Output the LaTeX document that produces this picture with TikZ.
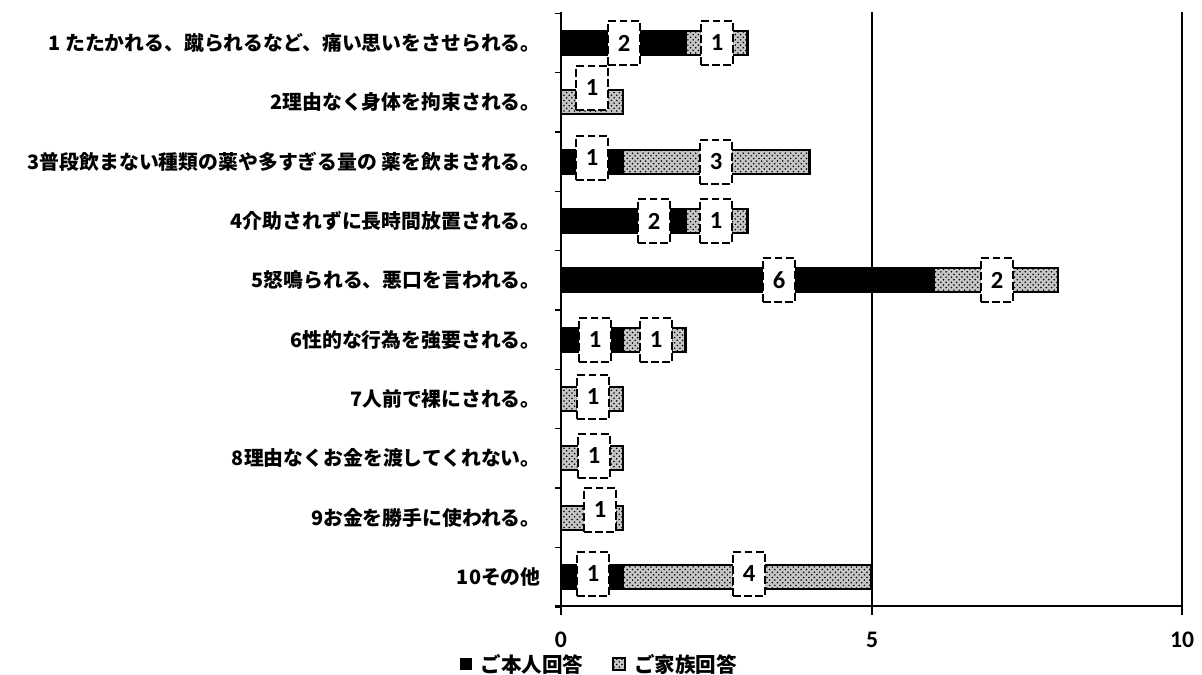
\documentclass[tikz,border=0pt]{standalone}
\usepackage{fontspec}
\setmainfont{Noto Sans CJK JP}
\newfontfamily\numfont{Carlito}
\usetikzlibrary{patterns,positioning}

\tikzset{
    selfBar/.style={draw=black, line width=1pt, fill=black},
    familyBar/.style={draw=black, line width=1.5pt, preaction={fill=gray!45}, pattern=crosshatch dots},
    valLabel/.style={draw=black, fill=white, line width=1.6pt, dash pattern=on 4.5pt off 1.8pt,
        minimum width=0.64cm, minimum height=0.88cm, inner sep=0pt, font=\numfont\bfseries\fontsize{14}{16}\selectfont},
    rowLabel/.style={anchor=east, inner sep=0pt, font=\bfseries\fontsize{11.3}{13}\selectfont},
    tickLabel/.style={inner sep=0pt, font=\numfont\bfseries\fontsize{13.5}{15}\selectfont},
    legendText/.style={inner sep=0pt, font=\bfseries\fontsize{11.7}{13}\selectfont},
    keyBox/.style={minimum size=0.24cm, inner sep=0pt}
}

\begin{document}
\begin{tikzpicture}[x=0.02cm, y=-0.02cm]
    \useasboundingbox (0,0) rectangle (1202,675);

    \draw[line width=1pt]
        (872,12) -- (872,615)
        (1182,12) -- (1182,615)
        (555,606) -- (1182,606)
        (561,12) -- (561,615);
    \foreach \k in {0,...,10}
        \draw[line width=0.8pt] (555,{13.3+59.35*\k}) -- (561,{13.3+59.35*\k});

    \node[rowLabel] (q1) at (541,43) {1 たたかれる、蹴られるなど、痛い思いをさせられる。};
    \node[rowLabel] (q2) at (541,102) {2理由なく身体を拘束される。};
    \node[rowLabel] (q3) at (541,162) {3普段飲まない種類の薬や多すぎる量の 薬を飲まされる。};
    \node[rowLabel] (q4) at (541,221) {4介助されずに長時間放置される。};
    \node[rowLabel] (q5) at (541,280) {5怒鳴られる、悪口を言われる。};
    \node[rowLabel] (q6) at (541,340) {6性的な行為を強要される。};
    \node[rowLabel] (q7) at (541,399) {7人前で裸にされる。};
    \node[rowLabel] (q8) at (541,458) {8理由なくお金を渡してくれない。};
    \node[rowLabel] (q9) at (541,518) {9お金を勝手に使われる。};
    \node[rowLabel] (q10) at (541,577) {10その他};

    \draw[selfBar] (561,31) rectangle (685.2,55);
    \draw[familyBar] (685.2,31) rectangle (747.3,55);
    \draw[familyBar] (561,90) rectangle (623.1,114);
    \draw[selfBar] (561,150) rectangle (623.1,174);
    \draw[familyBar] (623.1,150) rectangle (809.4,174);
    \draw[selfBar] (561,209) rectangle (685.2,233);
    \draw[familyBar] (685.2,209) rectangle (747.3,233);
    \draw[selfBar] (561,268) rectangle (933.6,292);
    \draw[familyBar] (933.6,268) rectangle (1057.8,292);
    \draw[selfBar] (561,328) rectangle (623.1,352);
    \draw[familyBar] (623.1,328) rectangle (685.2,352);
    \draw[familyBar] (561,387) rectangle (623.1,411);
    \draw[familyBar] (561,446) rectangle (623.1,470);
    \draw[familyBar] (561,506) rectangle (623.1,530);
    \draw[selfBar] (561,565) rectangle (623.1,589);
    \draw[familyBar] (623.1,565) rectangle (871.5,589);

    \node[valLabel] (v1a) at (624,43) {2};
    \node[valLabel] (v1b) at (717,43) {1};
    \node[valLabel] (v2b) at (592,88) {1};
    \node[valLabel] (v3a) at (592,158) {1};
    \node[valLabel] (v3b) at (716,162) {3};
    \node[valLabel] (v4a) at (654,221) {2};
    \node[valLabel] (v4b) at (716,221) {1};
    \node[valLabel] (v5a) at (779,280) {6};
    \node[valLabel] (v5b) at (997,280) {2};
    \node[valLabel] (v6a) at (595,340) {1};
    \node[valLabel] (v6b) at (656,340) {1};
    \node[valLabel] (v7b) at (593,397) {1};
    \node[valLabel] (v8b) at (594,456) {1};
    \node[valLabel] (v9b) at (600,510) {1};
    \node[valLabel] (v10a) at (593,574) {1};
    \node[valLabel] (v10b) at (749,574) {4};

    \node[tickLabel] (t0) at (561,640) {0};
    \node[tickLabel] (t5) at (872,640) {5};
    \node[tickLabel] (t10) at (1182,640) {10};

    \node[keyBox, fill=black] (keySelf) at (466,664) {};
    \node[legendText, right=0.16cm of keySelf] (keySelfText) {ご本人回答};
    \node[keyBox, draw=black, line width=0.8pt, preaction={fill=gray!45}, pattern=crosshatch dots] (keyFamily) at (619,664) {};
    \node[legendText, right=0.16cm of keyFamily] (keyFamilyText) {ご家族回答};
\end{tikzpicture}
\end{document}
